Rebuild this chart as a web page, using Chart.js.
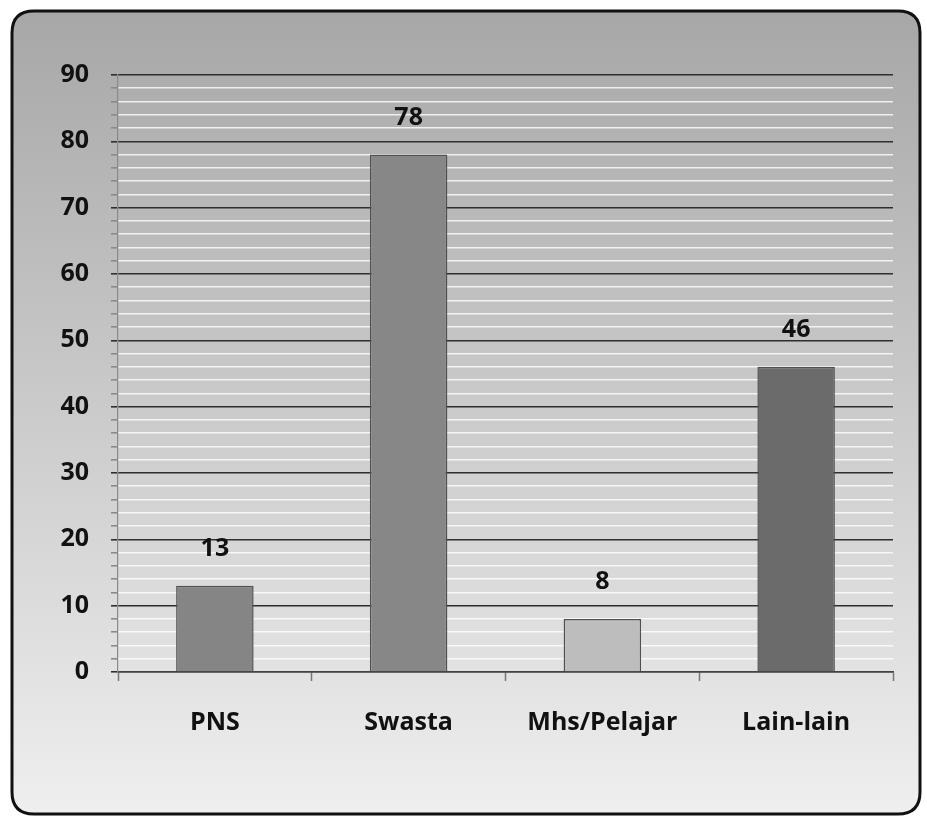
<!DOCTYPE html>
<html>
<head>
<meta charset="utf-8">
<script src="https://cdn.jsdelivr.net/npm/chart.js@4/dist/chart.umd.min.js"></script>
<style>
html,body{margin:0;padding:0;background:#ffffff;}
#wrap{width:927px;height:818px;position:relative;}
</style>
</head>
<body>
<div id="wrap"><canvas id="c"></canvas></div>
<script>
const categories = ["PNS", "Swasta", "Mhs/Pelajar", "Lain-lain"];
const values = [13, 78, 8, 46];
const barColors = ["#858585", "#878787", "#bdbdbd", "#6b6b6b"];
const yMin = 0, yMax = 90, yMinorStep = 2, yMajorStep = 10;

const FONT = "'Open Sans', Lato, sans-serif";

const bgPlugin = {
  id: 'bg',
  beforeDraw(chart) {
    const ctx = chart.ctx;
    const x = 12, y = 11, w = 927 - 12 - 7, h = 818 - 11 - 4, r = 22;
    ctx.save();
    const g = ctx.createLinearGradient(0, y, 0, y + h);
    g.addColorStop(0, '#a7a7a7');
    g.addColorStop(0.5, '#cbcbcb');
    g.addColorStop(1, '#efefef');
    ctx.beginPath();
    ctx.moveTo(x + r, y);
    ctx.lineTo(x + w - r, y);
    ctx.quadraticCurveTo(x + w, y, x + w, y + r);
    ctx.lineTo(x + w, y + h - r);
    ctx.quadraticCurveTo(x + w, y + h, x + w - r, y + h);
    ctx.lineTo(x + r, y + h);
    ctx.quadraticCurveTo(x, y + h, x, y + h - r);
    ctx.lineTo(x, y + r);
    ctx.quadraticCurveTo(x, y, x + r, y);
    ctx.closePath();
    ctx.fillStyle = g;
    ctx.fill();
    ctx.lineWidth = 3;
    ctx.strokeStyle = '#111111';
    ctx.stroke();
    ctx.restore();
  }
};

const labelPlugin = {
  id: 'vlabels',
  afterDatasetsDraw(chart) {
    const ctx = chart.ctx;
    const meta = chart.getDatasetMeta(0);
    ctx.save();
    ctx.font = "bold 25px " + FONT;
    ctx.fillStyle = '#111111';
    ctx.textAlign = 'center';
    ctx.textBaseline = 'middle';
    meta.data.forEach((bar, i) => {
      ctx.fillText(String(values[i]), bar.x, bar.y - 37);
    });
    ctx.restore();
  }
};

new Chart(document.getElementById('c'), {
  type: 'bar',
  data: {
    labels: categories,
    datasets: [{
      data: values,
      backgroundColor: barColors,
      borderColor: '#505050',
      borderWidth: 1.5,
      categoryPercentage: 1.0,
      barPercentage: 0.4
    }]
  },
  options: {
    responsive: true,
    maintainAspectRatio: false,
    animation: false,
    layout: { padding: { left: 0, right: 34, top: 75, bottom: 0 } },
    plugins: { legend: { display: false }, tooltip: { enabled: false } },
    scales: {
      x: {
        afterFit(scale) { scale.height = 146; },
        grid: {
          drawOnChartArea: false,
          drawTicks: true,
          tickLength: 9,
          tickColor: '#777777',
          tickWidth: 1.5,
          offset: true
        },
        border: { display: true, color: '#444444', width: 1.5 },
        ticks: {
          color: '#111111',
          padding: 27,
          font: { family: FONT, size: 25, weight: 'bold' }
        }
      },
      y: {
        min: yMin,
        max: yMax,
        afterFit(scale) { scale.width = 118; },
        grid: {
          color(ctx) {
            const v = ctx.tick && ctx.tick.value;
            return (v % yMajorStep === 0) ? '#2e2e2e' : 'rgba(255,255,255,0.8)';
          },
          lineWidth: 1.6,
          tickColor(ctx) {
            const v = ctx.tick && ctx.tick.value;
            return (v % yMajorStep === 0) ? '#2e2e2e' : '#8a8a8a';
          },
          tickLength: 7,
          drawTicks: true
        },
        border: { display: true, color: '#8a8a8a', width: 1.2 },
        ticks: {
          stepSize: yMinorStep,
          autoSkip: false,
          padding: 22,
          color: '#111111',
          font: { family: FONT, size: 25, weight: 'bold' },
          callback(v) { return (v % yMajorStep === 0) ? String(v) : ''; }
        }
      }
    }
  },
  plugins: [bgPlugin, labelPlugin]
});
</script>
</body>
</html>
